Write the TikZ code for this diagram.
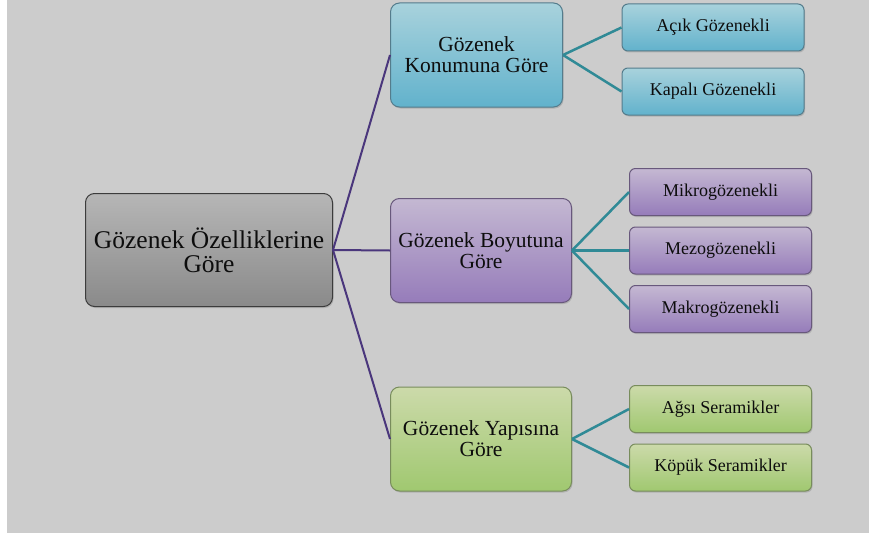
\documentclass[tikz,border=0pt]{standalone}
\usepackage{fontspec}
\setmainfont{Liberation Serif}
\usetikzlibrary{positioning,shadows}

\definecolor{bgGray}{RGB}{204,204,204}
\definecolor{rootTop}{RGB}{182,182,182}
\definecolor{rootBot}{RGB}{138,138,138}
\definecolor{rootEdge}{RGB}{60,60,60}
\definecolor{blueTop}{RGB}{168,210,220}
\definecolor{blueBot}{RGB}{98,178,204}
\definecolor{blueEdge}{RGB}{84,124,140}
\definecolor{lilaTop}{RGB}{196,184,210}
\definecolor{lilaBot}{RGB}{150,124,186}
\definecolor{lilaEdge}{RGB}{104,88,124}
\definecolor{greenTop}{RGB}{204,218,170}
\definecolor{greenBot}{RGB}{160,200,112}
\definecolor{greenEdge}{RGB}{120,140,92}
\definecolor{trunkCol}{RGB}{74,54,124}
\definecolor{branchCol}{RGB}{48,138,150}

\begin{document}
\begin{tikzpicture}[
    x=1pt, y=-1pt,
    box/.style={rectangle, rounded corners=9pt, draw, line width=1pt, align=center,
        text=black!95, drop shadow={opacity=0.35, shadow xshift=1pt, shadow yshift=-1.5pt}},
    rootbox/.style={box, draw=rootEdge, top color=rootTop, bottom color=rootBot,
        minimum width=247pt, minimum height=113pt, font=\fontsize{25.5}{24}\selectfont},
    midbox/.style={box, minimum width=181pt, minimum height=104pt, font=\fontsize{21.5}{21}\selectfont},
    leafbox/.style={box, rounded corners=6pt, minimum width=182pt, minimum height=47pt,
        font=\fontsize{18}{20}\selectfont},
    bluebox/.style={draw=blueEdge, top color=blueTop, bottom color=blueBot},
    lilabox/.style={draw=lilaEdge, top color=lilaTop, bottom color=lilaBot},
    greenbox/.style={draw=greenEdge, top color=greenTop, bottom color=greenBot},
    trunk/.style={draw=trunkCol, line width=2pt},
    branch/.style={draw=branchCol, line width=2.5pt}
]
    % canvas
    \fill[white] (0,0) rectangle (869,535);
    \fill[bgGray] (7,0) rectangle (869,533);
    \useasboundingbox (0,0) rectangle (869,535);

    % root
    \node[rootbox] (root) at (209,250) {Gözenek Özelliklerine\\Göre};

    % middle level
    \node[midbox, bluebox, minimum width=172pt] (konum) at (476.5,55) {Gözenek\\Konumuna Göre};
    \node[midbox, lilabox] (boyut) at (481,250.5) {Gözenek Boyutuna\\Göre};
    \node[midbox, greenbox] (yapi) at (481,439) {Gözenek Yapısına\\Göre};

    % leaves
    \node[leafbox, bluebox] (acik) at (713,27.5) {Açık Gözenekli};
    \node[leafbox, bluebox] (kapali) at (713,91.5) {Kapalı Gözenekli};
    \node[leafbox, lilabox] (mikro) at (720.5,192) {Mikrogözenekli};
    \node[leafbox, lilabox] (mezo) at (720.5,250.5) {Mezogözenekli};
    \node[leafbox, lilabox] (makro) at (720.5,309) {Makrogözenekli};
    \node[leafbox, greenbox] (agsi) at (720.5,409) {Ağsı Seramikler};
    \node[leafbox, greenbox] (kopuk) at (720.5,467.5) {Köpük Seramikler};

    % connectors
    \draw[trunk] (root.east) -- (konum.west);
    \draw[trunk] (root.east) -- (boyut.west);
    \draw[trunk] (root.east) -- (yapi.west);
    \draw[branch] (konum.east) -- (acik.west);
    \draw[branch] (konum.east) -- (kapali.west);
    \draw[branch] (boyut.east) -- (mikro.west);
    \draw[branch] (boyut.east) -- (mezo.west);
    \draw[branch] (boyut.east) -- (makro.west);
    \draw[branch] (yapi.east) -- (agsi.west);
    \draw[branch] (yapi.east) -- (kopuk.west);
\end{tikzpicture}
\end{document}
